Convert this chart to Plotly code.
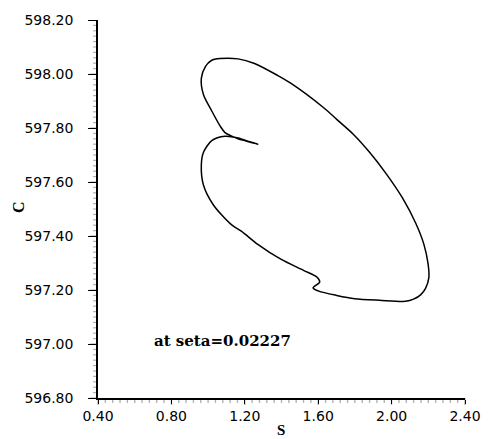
import plotly.graph_objects as go

s_vals = [1.271, 1.206, 1.163, 1.126, 1.092, 1.065, 1.020, 0.975, 0.963, 0.986,
          1.018, 1.065, 1.163, 1.253, 1.378, 1.450, 1.630, 1.701, 1.791, 1.880,
          1.970, 2.060, 2.131, 2.176, 2.199, 2.203, 2.185, 2.158, 2.120, 2.077,
          1.934, 1.799, 1.701, 1.603, 1.572, 1.608, 1.594, 1.522, 1.396, 1.271,
          1.181, 1.127, 1.029, 0.975, 0.963, 0.975, 1.020, 1.092, 1.163, 1.228,
          1.271]
c_vals = [597.740, 597.752, 597.760, 597.771, 597.783, 597.808, 597.863, 597.923, 597.984, 598.028,
          598.050, 598.057, 598.056, 598.039, 597.995, 597.966, 597.875, 597.832, 597.777, 597.710,
          597.631, 597.540, 597.448, 597.369, 597.296, 597.246, 597.206, 597.182, 597.166, 597.158,
          597.162, 597.168, 597.180, 597.196, 597.208, 597.229, 597.247, 597.272, 597.314, 597.369,
          597.418, 597.442, 597.515, 597.588, 597.662, 597.710, 597.753, 597.769, 597.763, 597.749,
          597.740]

x_range = [0.4, 2.4]
y_range = [596.8, 598.2]
x_major, x_minor = 0.4, 0.04
y_major, y_minor = 0.2, 0.02
label_text = "at seta=0.02227"
x_title = "S"
y_title = "C"

W, H = 493, 439
ML, MR, MT, MB = 98, 23, 16, 41
pw = W - ML - MR
ph = H - MT - MB

fig = go.Figure()
fig.add_trace(go.Scatter(x=s_vals, y=c_vals, mode="lines",
                         line=dict(color="black", width=1.5, shape="spline", smoothing=0.8),
                         showlegend=False, hoverinfo="skip"))

tickfont = dict(family="DejaVu Sans", size=14, color="black")
fig.update_layout(
    template="simple_white",
    width=W, height=H,
    margin=dict(l=ML, r=MR, t=MT, b=MB),
    paper_bgcolor="white", plot_bgcolor="white",
    xaxis=dict(range=x_range, tickmode="linear", tick0=x_range[0], dtick=x_major, tickformat=".2f",
               showgrid=False, zeroline=False, showline=True, linecolor="black", linewidth=1.5,
               ticks="outside", ticklen=4, tickwidth=1.2, tickcolor="black", tickfont=tickfont,
               ticklabelstandoff=0),
    yaxis=dict(range=y_range, tickmode="linear", tick0=y_range[0], dtick=y_major, tickformat=".2f",
               showgrid=False, zeroline=False, showline=True, linecolor="black", linewidth=1.5,
               ticks="outside", ticklen=8, tickwidth=1.2, tickcolor="black", tickfont=tickfont,
               ticklabelstandoff=12),
    annotations=[
        dict(text="<b>" + label_text + "</b>", x=0.695, y=597.01, xref="x", yref="y",
             xanchor="left", yanchor="middle", showarrow=False,
             font=dict(family="DejaVu Serif", size=15, color="black")),
        dict(text="<b>" + x_title + "</b>", xref="paper", yref="paper", showarrow=False,
             xanchor="center", yanchor="middle",
             x=(283 - ML) / pw, y=(H - MB - 430) / ph,
             font=dict(family="Liberation Serif", size=15, color="black")),
        dict(text="<b>" + y_title + "</b>", xref="paper", yref="paper", showarrow=False,
             xanchor="center", yanchor="middle", textangle=-90,
             x=(17 - ML) / pw, y=(H - MB - 205) / ph,
             font=dict(family="Liberation Serif", size=16, color="black")),
    ],
)

# tick marks drawn as shapes
shapes = []
x_span = x_range[1] - x_range[0]
n_x = int(round(x_span / x_minor))
half_w = 0.7 / pw
for i in range(n_x + 1):
    xp = i * x_minor / x_span
    ln = 7 if i % int(round(x_major / x_minor)) == 0 else 5
    shapes.append(dict(type="rect", xref="paper", yref="paper", x0=xp - half_w, x1=xp + half_w,
                       y0=0, y1=-ln / ph, fillcolor="black", line=dict(width=0),
                       layer="above"))
n_y = int(round((y_range[1] - y_range[0]) / y_minor))
for i in range(n_y + 1):
    yv = y_range[0] + i * y_minor
    ln = 8 if i % int(round(y_major / y_minor)) == 0 else 5
    shapes.append(dict(type="line", xref="paper", yref="y", x0=0, x1=-ln / pw,
                       y0=yv, y1=yv, line=dict(color="black", width=1.2)))
fig.update_layout(shapes=shapes)

fig.write_html("out.html")
